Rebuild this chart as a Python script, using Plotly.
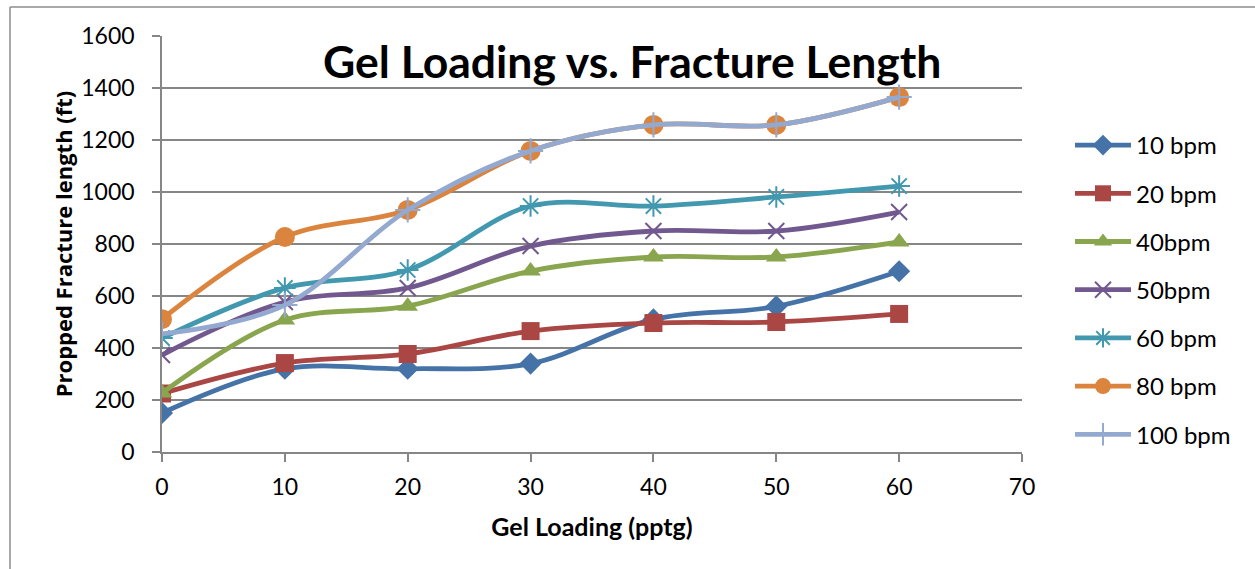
import plotly.graph_objects as go

# Gel loading (pptg) on the x axis
gel_loading = [0, 10, 20, 30, 40, 50, 60]

# Propped fracture length (ft) for each pump rate
series_names = ["10 bpm", "20 bpm", "40bpm", "50bpm", "60 bpm", "80 bpm", "100 bpm"]
len_10 = [150, 320, 320, 340, 510, 560, 695]
len_20 = [225, 342, 377, 465, 496, 500, 531]
len_40 = [227, 508, 561, 696, 750, 750, 808]
len_50 = [373, 577, 631, 792, 850, 850, 923]
len_60 = [438, 631, 700, 946, 946, 981, 1023]
len_80 = [511, 827, 931, 1158, 1258, 1258, 1365]
len_100 = [454, 565, 931, 1158, 1258, 1258, 1365]
series_values = [len_10, len_20, len_40, len_50, len_60, len_80, len_100]

colors = ["#4572A7", "#AA4643", "#89A54E", "#71588F", "#4198AF", "#DB843D", "#93A9CF"]
symbols = ["diamond", "square", "triangle-up", "x-thin-open", "asterisk-open",
           "circle", "cross-thin-open"]
sizes = [17, 18, 18, 16, 18, 20, 18]

FONT = "Lato, Calibri, Carlito, sans-serif"

fig = go.Figure()
for i, (name, vals) in enumerate(zip(series_names, series_values)):
    open_sym = symbols[i].endswith("open")
    fig.add_trace(go.Scatter(
        x=gel_loading, y=vals, name=name, mode="lines+markers",
        legendgroup=name,
        line=dict(color=colors[i], width=4.8, shape="spline", smoothing=1.0),
        marker=dict(symbol=symbols[i], size=sizes[i], color=colors[i],
                    line=dict(color=colors[i], width=2 if open_sym else 0)),
    ))

# Plot-area pixel box, used to place the outer frame and the title
L, R, T, B = 162, 1022, 36, 452
def px_to_paper_x(px):
    return (px - L) / (R - L)
def px_to_paper_y(py):
    return (B - py) / (B - T)

frame = dict(color="#8c8c8c", width=1.5)
fig.add_shape(type="line", xref="paper", yref="paper",
              x0=px_to_paper_x(10), x1=px_to_paper_x(1260),
              y0=px_to_paper_y(7), y1=px_to_paper_y(7), line=frame)
fig.add_shape(type="line", xref="paper", yref="paper",
              x0=px_to_paper_x(10), x1=px_to_paper_x(10),
              y0=px_to_paper_y(7), y1=px_to_paper_y(575), line=frame)

fig.add_annotation(text="<b>Gel Loading vs. Fracture Length</b>",
                   xref="paper", yref="paper",
                   x=px_to_paper_x(632), y=px_to_paper_y(60),
                   xanchor="center", yanchor="middle", showarrow=False,
                   font=dict(family=FONT, size=44.5, color="#000000"))

axis_common = dict(
    showline=True, linecolor="#868686", linewidth=1.5,
    ticks="outside", tickcolor="#868686", ticklen=8, tickwidth=1.5,
    tickfont=dict(family=FONT, size=23, color="#000000"),
    zeroline=False,
)

fig.update_layout(
    width=1255, height=569,
    margin=dict(l=L, r=1255 - R, t=T, b=569 - B),
    paper_bgcolor="white", plot_bgcolor="white",
    font=dict(family=FONT, color="#000000"),
    xaxis=dict(range=[0, 70], dtick=10, showgrid=False, ticklabelstandoff=6,
               title=dict(text="<b>Gel Loading (pptg)</b>",
                          font=dict(family=FONT, size=25), standoff=19),
               **axis_common),
    yaxis=dict(range=[0, 1600], dtick=200, showgrid=True, gridcolor="#868686",
               gridwidth=1.5, ticklabelstandoff=13,
               title=dict(text="<b>Propped Fracture length (ft)</b>",
                          font=dict(family="Open Sans, sans-serif", size=22),
                          standoff=3),
               **axis_common),
    legend=dict(x=px_to_paper_x(1070), y=px_to_paper_y(123),
                xanchor="left", yanchor="top",
                font=dict(family=FONT, size=24, color="#000000"),
                tracegroupgap=14, itemwidth=56,
                bgcolor="rgba(0,0,0,0)"),
    showlegend=True,
)

fig.write_html("out.html")
